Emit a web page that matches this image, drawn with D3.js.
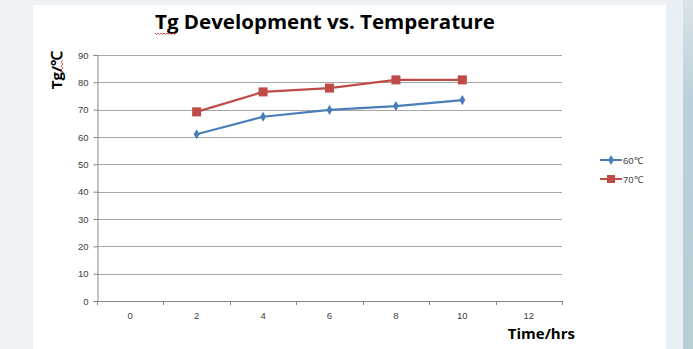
<!DOCTYPE html>
<html>
<head>
<meta charset="utf-8">
<script src="https://cdn.jsdelivr.net/npm/d3@7"></script>
<style>
  html, body { margin: 0; padding: 0; background: #eff2f4; }
  svg { display: block; }
</style>
</head>
<body>
<svg id="chart" width="693" height="349"></svg>
<script>
// Time points (hours) on the category axis
const categories = ["0", "2", "4", "6", "8", "10", "12"];
const yTicks = [0, 10, 20, 30, 40, 50, 60, 70, 80, 90];

// Glass transition temperature (°C) by cure time
const series60 = [
  { t: "2", v: 61.0 }, { t: "4", v: 67.4 }, { t: "6", v: 69.9 },
  { t: "8", v: 71.3 }, { t: "10", v: 73.5 }
];
const series70 = [
  { t: "2", v: 69.2 }, { t: "4", v: 76.5 }, { t: "6", v: 77.9 },
  { t: "8", v: 80.9 }, { t: "10", v: 80.9 }
];
const seriesNames = ["60℃", "70℃"];
const seriesColors = ["#4a7ebb", "#be4b48"];

const svg = d3.select("#chart");

// backdrop: slide gradient strip on the right, white chart panel
const defs = svg.append("defs");
const grad = defs.append("linearGradient").attr("id", "strip").attr("x1", 0).attr("x2", 0).attr("y1", 0).attr("y2", 1);
grad.append("stop").attr("offset", "0%").attr("stop-color", "#d9e3e8");
grad.append("stop").attr("offset", "30%").attr("stop-color", "#b9d0d8");
grad.append("stop").attr("offset", "100%").attr("stop-color", "#b7cdd4");
svg.append("rect").attr("x", 666).attr("y", 0).attr("width", 18).attr("height", 349).attr("fill", "#e9eff2");
svg.append("rect").attr("x", 683).attr("y", 0).attr("width", 10).attr("height", 349).attr("fill", "url(#strip)");
svg.append("rect").attr("x", 33).attr("y", 5).attr("width", 633).attr("height", 344).attr("fill", "#ffffff");

const plotLeft = 97, plotRight = 562, plotTop = 55, plotBottom = 301;

const x = d3.scaleBand().domain(categories).range([plotLeft, plotRight]).paddingInner(0).paddingOuter(0);
const y = d3.scaleLinear().domain([0, 90]).range([plotBottom, plotTop]);
const cx = d => x(d) + x.bandwidth() / 2;

// horizontal gridlines
svg.append("g")
  .selectAll("line").data(yTicks.filter(d => d > 0)).join("line")
  .attr("x1", plotLeft).attr("x2", plotRight)
  .attr("y1", d => Math.round(y(d)) + 0.5).attr("y2", d => Math.round(y(d)) + 0.5)
  .attr("stroke", "#a6a6a6").attr("stroke-width", 1);

// y axis
const yAxis = svg.append("g").attr("transform", `translate(${plotLeft + 0.5},0)`)
  .call(d3.axisLeft(y).tickValues(yTicks).tickSize(4).tickPadding(5));
yAxis.select(".domain").attr("stroke", "#868686");
yAxis.selectAll(".tick line").attr("stroke", "#868686");
yAxis.selectAll("text").attr("fill", "#404040").style("font", "9.5px 'Liberation Sans', Arial, sans-serif");

// x axis: ticks at band boundaries, labels centred in the bands
const xAxisG = svg.append("g").attr("transform", `translate(0,${plotBottom})`);
xAxisG.append("line").attr("x1", plotLeft).attr("x2", plotRight).attr("y1", 0.5).attr("y2", 0.5).attr("stroke", "#868686");
const bounds = categories.map(c => x(c)).concat([plotRight]);
xAxisG.selectAll("line.tk").data(bounds).join("line").attr("class", "tk")
  .attr("x1", d => Math.round(d) + 0.5).attr("x2", d => Math.round(d) + 0.5)
  .attr("y1", 0).attr("y2", 4).attr("stroke", "#868686");
xAxisG.selectAll("text").data(categories).join("text")
  .attr("x", d => cx(d)).attr("y", 18).attr("text-anchor", "middle")
  .attr("fill", "#404040").style("font", "9.5px 'Liberation Sans', Arial, sans-serif")
  .text(d => d);

// series lines and markers
const line = d3.line().x(d => cx(d.t)).y(d => y(d.v));
[series60, series70].forEach((s, i) => {
  svg.append("path").datum(s).attr("d", line)
    .attr("fill", "none").attr("stroke", seriesColors[i]).attr("stroke-width", 2.2);
});
const diamond = d3.symbol().type(d3.symbolDiamond).size(30);
svg.append("g").selectAll("path").data(series60).join("path")
  .attr("transform", d => `translate(${cx(d.t)},${y(d.v)})`)
  .attr("d", diamond).attr("fill", seriesColors[0]);
svg.append("g").selectAll("rect").data(series70).join("rect")
  .attr("x", d => cx(d.t) - 4.5).attr("y", d => y(d.v) - 4.5)
  .attr("width", 9).attr("height", 9).attr("fill", seriesColors[1]);

// title
svg.append("text").attr("x", 325).attr("y", 29).attr("text-anchor", "middle")
  .attr("fill", "#000").style("font", "bold 20px 'Open Sans', 'Liberation Sans', sans-serif")
  .attr("textLength", 340).attr("lengthAdjust", "spacingAndGlyphs")
  .text("Tg Development vs. Temperature");
// spell-check squiggle under "Tg"
const squig = (x0, x1, yy) => {
  let p = `M${x0},${yy}`;
  for (let xx = x0, k = 0; xx < x1; xx += 1.5, k++) p += `L${xx + 1.5},${yy + (k % 2 ? 0 : 1.5)}`;
  return p;
};
svg.append("path").attr("d", squig(155, 176, 33)).attr("fill", "none").attr("stroke", "#e03030").attr("stroke-width", 0.8);

// axis titles
svg.append("text").attr("transform", "translate(62,70) rotate(-90)").attr("text-anchor", "middle")
  .attr("fill", "#000").style("font", "bold 15px 'Open Sans', 'Liberation Sans', sans-serif")
  .text("Tg/℃");
svg.append("path").attr("d", "M63,60 L61,62 L63,64 L61,66 L63,68 L61,70 L63,72").attr("fill", "none").attr("stroke", "#e03030").attr("stroke-width", 0.8);
svg.append("text").attr("x", 575).attr("y", 339).attr("text-anchor", "end")
  .attr("fill", "#000").style("font", "bold 15px 'Open Sans', 'Liberation Sans', sans-serif")
  .text("Time/hrs");

// legend
const lg = svg.append("g");
seriesNames.forEach((name, i) => {
  const ly = 160 + i * 19;
  lg.append("line").attr("x1", 600).attr("x2", 622).attr("y1", ly).attr("y2", ly)
    .attr("stroke", seriesColors[i]).attr("stroke-width", 2);
  if (i === 0) {
    lg.append("path").attr("transform", `translate(611,${ly})`).attr("d", diamond).attr("fill", seriesColors[i]);
  } else {
    lg.append("rect").attr("x", 607).attr("y", ly - 4).attr("width", 8).attr("height", 8).attr("fill", seriesColors[i]);
  }
  lg.append("text").attr("x", 623).attr("y", ly + 3.5).attr("fill", "#404040")
    .style("font", "9.5px 'Liberation Sans', Arial, sans-serif").text(name);
});
</script>
</body>
</html>
